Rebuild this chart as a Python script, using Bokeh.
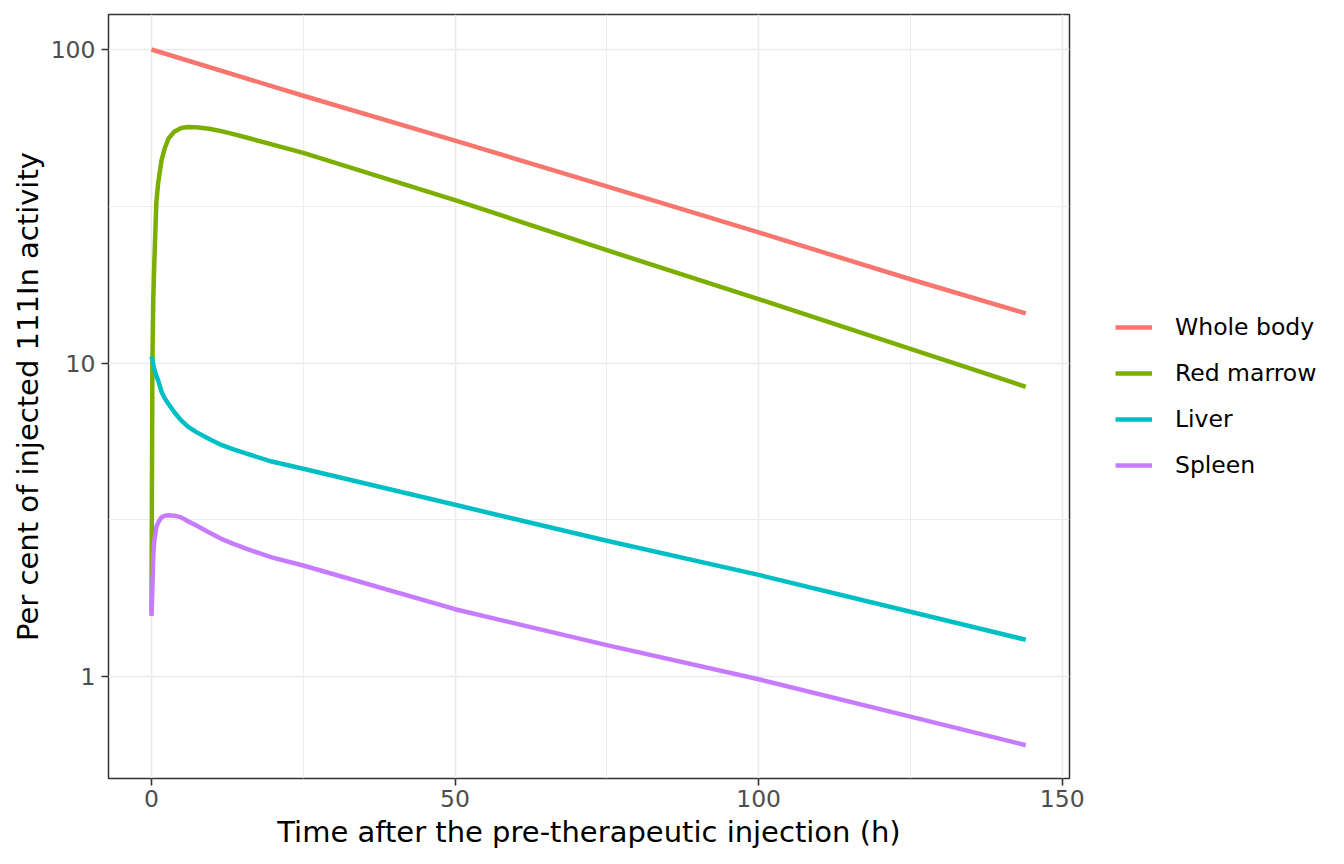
from bokeh.plotting import figure
from bokeh.models import (Range1d, FixedTicker, BasicTickFormatter, Legend, LegendItem)
from bokeh.embed import file_html
from bokeh.resources import INLINE

# hours after injection
horas_cuerpo = [0, 25, 50, 75, 100, 125, 144]
horas = [0, 0.15, 0.3, 0.45, 0.8, 1.1, 1.65, 2.2, 2.8, 3.8, 4.9, 6, 7.4, 9.5,
         11.5, 13.5, 15.8, 19.8, 25, 50, 75, 100, 125, 144]

# per cent of injected activity
cuerpo_entero = [100, 71.2, 51.2, 36.6, 26.1, 18.5, 14.4]
medula_roja = [1.6, 10, 16, 20.5, 32.5, 37.5, 44.3, 48.5, 52, 54.8, 56.2, 56.6,
               56.5, 55.9, 54.9, 53.7, 52.3, 49.8, 46.8, 33.1, 22.9, 16.0, 11.1, 8.4]
higado = [10.5, 10.2, 9.9, 9.6, 9.1, 8.8, 8.1, 7.7, 7.4, 6.95, 6.56, 6.27,
          6.02, 5.72, 5.48, 5.3, 5.13, 4.85, 4.6, 3.53, 2.71, 2.11, 1.61, 1.31]
bazo = [1.56, 1.9, 2.45, 2.7, 3.0, 3.1, 3.22, 3.26, 3.27, 3.26, 3.22, 3.13,
        3.03, 2.88, 2.75, 2.65, 2.55, 2.4, 2.26, 1.64, 1.26, 0.98, 0.745, 0.604]

nombres = ["Whole body", "Red marrow", "Liver", "Spleen"]
colores = ["#F8766D", "#7CAE00", "#00BFC4", "#C77CFF"]

ticks_x = [0, 50, 100, 150]
ticks_x_menores = [25, 75, 125]
ticks_y = [1, 10, 100]
ticks_y_menores = [0.3162, 3.162, 31.62]

FUENTE = "DejaVu Sans"

p = figure(frame_width=961, frame_height=764, y_axis_type="log",
           x_range=Range1d(-7.08, 151.2), y_range=Range1d(0.473, 129.3),
           output_backend="svg", toolbar_location=None,
           min_border_left=92, min_border_right=262,
           min_border_top=14, min_border_bottom=70,
           margin=(0, 0, 0, 7),
           x_axis_label="Time after the pre-therapeutic injection (h)",
           y_axis_label="Per cent of injected 111In activity")

p.background_fill_color = "white"
p.border_fill_color = "white"
p.outline_line_color = "#333333"
p.outline_line_width = 1.5

p.xaxis.ticker = FixedTicker(ticks=ticks_x, minor_ticks=ticks_x_menores)
p.yaxis.ticker = FixedTicker(ticks=ticks_y, minor_ticks=ticks_y_menores)
p.xgrid.ticker = FixedTicker(ticks=ticks_x, minor_ticks=ticks_x_menores)
p.ygrid.ticker = FixedTicker(ticks=ticks_y, minor_ticks=ticks_y_menores)
p.yaxis.formatter = BasicTickFormatter()

for g in (p.xgrid, p.ygrid):
    g.grid_line_color = "#EBEBEB"
    g.grid_line_width = 1.6
    g.minor_grid_line_color = "#EBEBEB"
    g.minor_grid_line_width = 0.9

for ax in (p.xaxis, p.yaxis):
    ax.axis_line_color = None
    ax.major_tick_line_color = "#333333"
    ax.major_tick_line_width = 1.6
    ax.major_tick_out = 7
    ax.major_tick_in = 0
    ax.minor_tick_line_color = None
    ax.major_label_text_font = FUENTE
    ax.major_label_text_font_size = "23.5px"
    ax.major_label_text_color = "#4D4D4D"
    ax.axis_label_text_font = FUENTE
    ax.axis_label_text_font_size = "29px"
    ax.axis_label_text_font_style = "normal"
    ax.axis_label_text_color = "black"

p.xaxis.major_label_standoff = 4
p.xaxis.axis_label_standoff = 5
p.yaxis.major_label_standoff = 6
p.yaxis.axis_label_standoff = 3

lineas = []
series = [(horas_cuerpo, cuerpo_entero), (horas, medula_roja), (horas, higado), (horas, bazo)]
for (xs, ys), color in zip(series, colores):
    r = p.line(xs, ys, line_color=color, line_width=4.5, line_join="round")
    lineas.append(r)

leyenda = Legend(items=[LegendItem(label=n, renderers=[r]) for n, r in zip(nombres, lineas)],
                 location="center_left", margin=46, padding=10,
                 glyph_width=37, glyph_height=46, label_height=46, spacing=0,
                 label_standoff=23, label_text_font=FUENTE,
                 label_text_font_size="23.5px", label_text_color="black",
                 border_line_color=None, background_fill_color="white")
p.add_layout(leyenda, "right")

open("out.html", "w").write(file_html(p, INLINE))
